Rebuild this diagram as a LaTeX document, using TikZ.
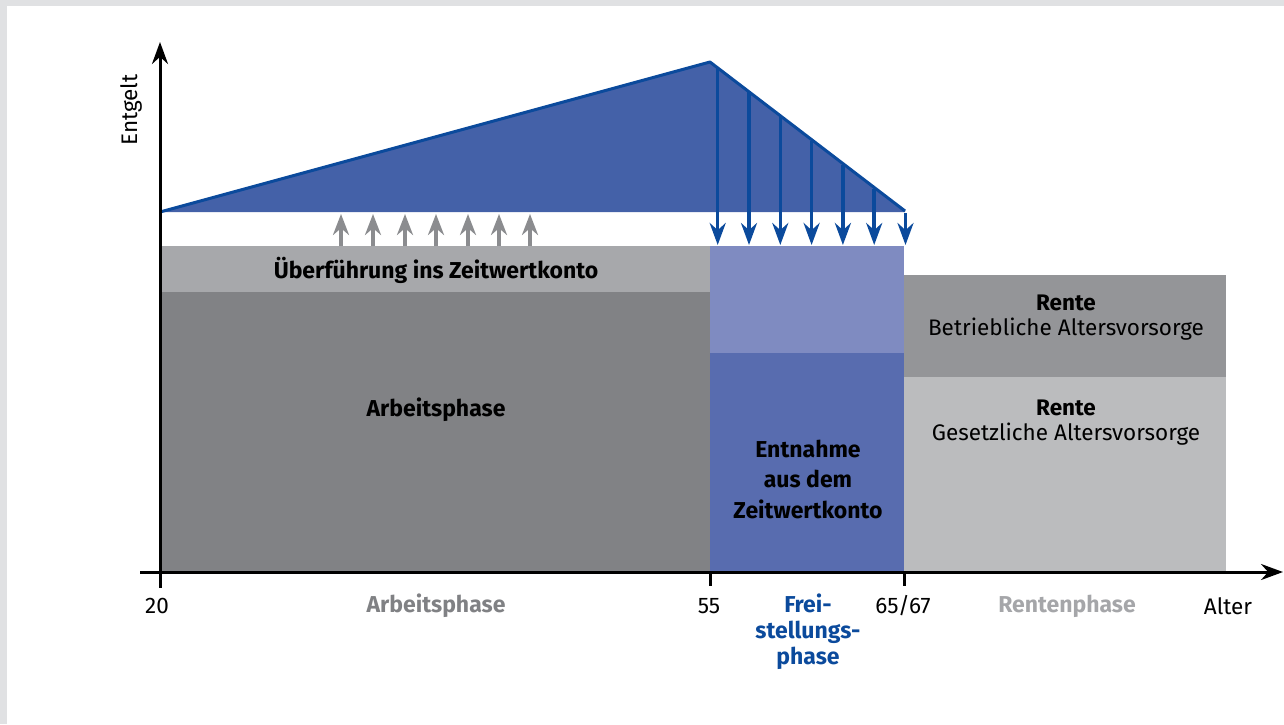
\documentclass[tikz,border=0pt]{standalone}
\usepackage{fontspec}
\setmainfont{Fira Sans}
\usetikzlibrary{arrows.meta}

\definecolor{frame}{HTML}{E0E1E3}
\definecolor{salblue}{HTML}{4461A8}
\definecolor{lineblue}{HTML}{0B4A9C}
\definecolor{bandgray}{HTML}{A7A8AB}
\definecolor{workgray}{HTML}{818285}
\definecolor{lightblue}{HTML}{7F8BC1}
\definecolor{midblue}{HTML}{586CAF}
\definecolor{rentdark}{HTML}{949598}
\definecolor{rentlight}{HTML}{BBBCBE}
\definecolor{uparrow}{HTML}{8B8C8F}
\definecolor{phasegray}{HTML}{808184}
\definecolor{phaselight}{HTML}{A5A6A9}

\tikzset{
  txt/.style={font=\fontsize{22.5}{25}\selectfont, inner sep=0pt, align=center},
  boldtxt/.style={txt, font=\fontsize{23}{25}\selectfont\bfseries},
  axis/.style={line width=3pt, -{Stealth[length=22pt,width=16pt]}},
  tick/.style={line width=3pt},
  down/.style={lineblue, line width=3.5pt, -{Stealth[length=22pt,width=16pt]}},
  up/.style={uparrow, line width=4pt, -{Stealth[length=21pt,width=16pt]}}
}

\begin{document}
\begin{tikzpicture}[x=1pt, y=-1pt]
    \useasboundingbox (0,0) rectangle (1284,724);
    % frame
    \fill[frame] (0,0) rectangle (1284,6);
    \fill[frame] (0,0) rectangle (7,724);
    % salary triangle
    \fill[salblue] (160,212) -- (710,62) -- (905,211) -- (905,212) -- cycle;
    \draw[lineblue, line width=3pt, line join=round] (160,212) -- (710,62) -- (905,211);
    % phases
    \fill[bandgray] (160,246) rectangle (710,292);
    \fill[workgray] (160,292) rectangle (710,572);
    \fill[lightblue] (710,246) rectangle (904,353);
    \fill[midblue] (710,353) rectangle (904,572);
    \fill[rentdark] (904,275) rectangle (1226,377);
    \fill[rentlight] (904,377) rectangle (1226,572);
    % arrows up into the account
    \foreach \x in {341,373,405,436,468,499,530}
        \draw[up] (\x,246) -- (\x,214);
    % arrows down out of the account
    \def\slope{0.7732}
    \foreach \i in {0,...,6} {
        \pgfmathsetmacro{\xa}{717.7+31.3*\i}
        \pgfmathsetmacro{\ya}{62+\slope*(\xa-710)}
        \draw[down] (\xa,\ya) -- (\xa,245);
    }
    % labels in the boxes
    \node[boldtxt] (transfer) at (436,270) {Überführung ins Zeitwertkonto};
    \node[boldtxt] (work) at (436,410) {Arbeitsphase};
    \node[boldtxt, font=\fontsize{23}{30.5}\selectfont\bfseries] (withdraw) at (808,479) {Entnahme\\aus dem\\Zeitwertkonto};
    \node[txt] (rentA) at (1066,318) {\textbf{Rente}\\Betriebliche Altersvorsorge};
    \node[txt] (rentB) at (1066,423) {\textbf{Rente}\\Gesetzliche Altersvorsorge};
    % axes
    \draw[axis] (160,574) -- (160,42);
    \draw[axis] (140,572) -- (1283,572);
    \draw[tick] (160,572) -- (160,588);
    \draw[tick] (710,572) -- (710,586);
    \draw[tick] (904,572) -- (904,586);
    \node[txt, rotate=90] (ylab) at (131,110) {Entgelt};
    \node[txt] (t20) at (157,606) {20};
    \node[txt] (t55) at (709,606) {55};
    \node[txt] (t65) at (903,606) {65/67};
    \node[txt] (xlab) at (1228,606) {Alter};
    % phase names
    \node[boldtxt, phasegray] (pwork) at (436,606) {Arbeitsphase};
    \node[boldtxt, lineblue, font=\fontsize{23}{26}\selectfont\bfseries] (pfree) at (808,632) {Frei-\\stellungs-\\phase};
    \node[boldtxt, phaselight] (prent) at (1067,606) {Rentenphase};
\end{tikzpicture}
\end{document}
